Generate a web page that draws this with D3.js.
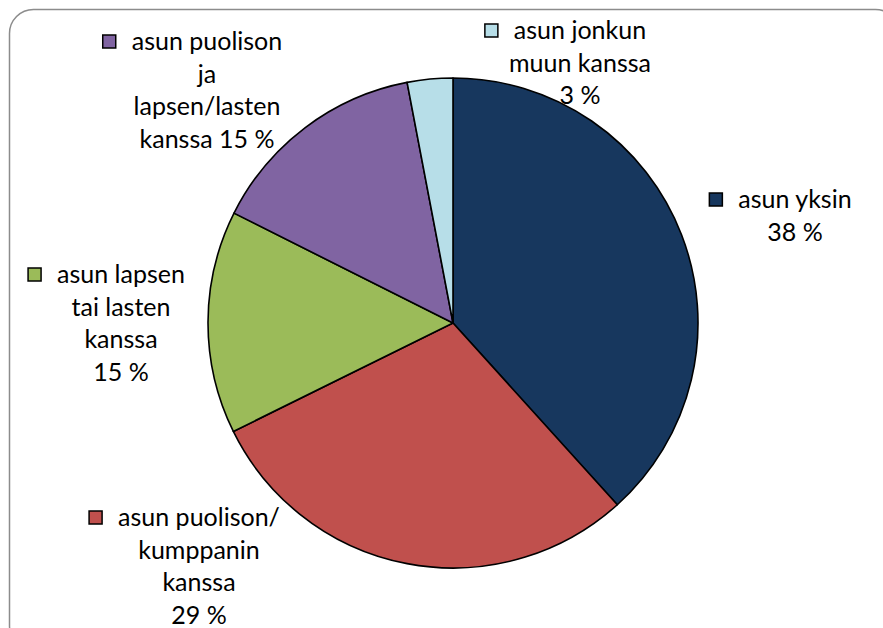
<!DOCTYPE html>
<html>
<head>
<meta charset="utf-8">
<script src="https://cdn.jsdelivr.net/npm/d3@7"></script>
<style>
  html, body { margin: 0; padding: 0; background: #fff; }
  svg { display: block; }
  .lbl { font-family: Lato, "Open Sans", sans-serif; font-size: 25px; fill: #000; }
</style>
</head>
<body>
<div id="chart"></div>
<script>
// Data
const categories = [
    'asun yksin',
    'asun puolison/kumppanin kanssa',
    'asun lapsen tai lasten kanssa',
    'asun puolison ja lapsen/lasten kanssa',
    'asun jonkun muun kanssa'
];
// shares; labels show them rounded
const values = [38.3, 29.4, 14.7, 14.6, 3.0];
// label text broken into lines, as in the picture ({p} = percentage)
const labelLines = [
    ['asun yksin', '{p} %'],
    ['asun puolison/', 'kumppanin', 'kanssa', '{p} %'],
    ['asun lapsen', 'tai lasten', 'kanssa', '{p} %'],
    ['asun puolison', 'ja', 'lapsen/lasten', 'kanssa {p} %'],
    ['asun jonkun', 'muun kanssa', '{p} %']
];

// Layout (kept apart from the data)
const colors = ['#17375E', '#C0504D', '#9BBB59', '#8064A2', '#B7DEE8'];
const labelPos = [ // centre x of text block, baseline y of first line
    [795, 208],
    [199, 526],
    [121, 283],
    [207, 50],
    [580, 39]
];
const width = 883, height = 628;
const cx = 453, cy = 323, radius = 245;
const lineGap = 32.5;

const svg = d3.select('#chart').append('svg')
    .attr('width', width)
    .attr('height', height);

// Chart frame (runs off the right and bottom edges)
svg.append('rect')
    .attr('x', 9.5).attr('y', 9.5)
    .attr('width', 890).attr('height', 640)
    .attr('rx', 24)
    .style('fill', 'none')
    .style('stroke', '#8c8c8c')
    .style('stroke-width', 1.5);

const pie = d3.pie().sort(null).value(d => d);
const arc = d3.arc().innerRadius(0).outerRadius(radius);
const total = d3.sum(values);

const g = svg.append('g').attr('transform', `translate(${cx},${cy})`);

g.selectAll('path')
    .data(pie(values))
    .join('path')
    .attr('d', arc)
    .style('fill', (d, i) => colors[i])
    .style('stroke', '#000')
    .style('stroke-width', 1.6)
    .style('stroke-linejoin', 'round');

// Data labels with legend keys
categories.forEach((c, i) => {
    const [x, y] = labelPos[i];
    const pct = Math.round(values[i] / total * 100);
    const lines = labelLines[i].map(s => s.replace('{p}', pct));
    const t = svg.append('text')
        .attr('class', 'lbl')
        .attr('text-anchor', 'middle');
    lines.forEach((ln, j) => {
        t.append('tspan')
            .attr('x', x)
            .attr('y', y + j * lineGap)
            .text(ln);
    });
    // key square left of first line
    const firstW = t.select('tspan').node().getComputedTextLength();
    svg.append('rect')
        .attr('x', x - firstW / 2 - 29)
        .attr('y', y - 15)
        .attr('width', 13)
        .attr('height', 13)
        .style('fill', colors[i])
        .style('stroke', '#000')
        .style('stroke-width', 1.5);
});
</script>
</body>
</html>
